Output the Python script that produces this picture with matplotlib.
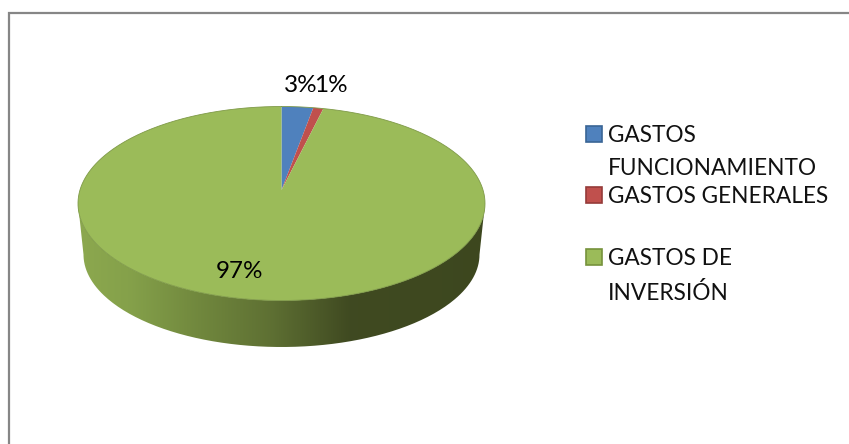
import numpy as np
import matplotlib
matplotlib.use("Agg")
import matplotlib.pyplot as plt
from matplotlib.patches import Rectangle, PathPatch
from matplotlib.path import Path

plt.rcParams["font.family"] = ["Lato", "DejaVu Sans"]

# Data
categories = ["GASTOS\nFUNCIONAMIENTO", "GASTOS GENERALES", "GASTOS DE\nINVERSIÓN"]
values = [2.5, 0.8, 96.7]
pct_labels = ["3%", "1%", "97%"]
colors = ["#4F81BD", "#C0504D", "#9BBB59"]
edges = ["#3A6595", "#953B39", "#76923C"]

# pie geometry in pixels
cx, cy = 281.5, 203.5
rx, ry = 203.5, 97
apex = (281.5, 190)
bx, by = 281.5, 254.5
brx, bry = 198, 92.5

fig = plt.figure(figsize=(8.49, 4.44), dpi=100)
ax = fig.add_axes([0, 0, 1, 1])
ax.set_xlim(0, 849)
ax.set_ylim(444, 0)
ax.axis("off")

# frame, no bottom and no right side
ax.plot([9, 9, 849], [444, 13, 13], color="#868686", lw=1.6, solid_joinstyle="miter")

# side of the pie, horizontal gradient clipped to the wall
t = np.linspace(np.pi, 0, 200)
wall_x = np.r_[cx + rx * np.cos(t), (bx + brx * np.cos(t))[::-1]]
wall_y = np.r_[cy + ry * np.sin(t), (by + bry * np.sin(t))[::-1]]
wall = Path(np.c_[wall_x, wall_y])
stops_x = [78, 130, 200, 270, 350, 485]
stops_c = [(0.55, 0.66, 0.31), (0.52, 0.63, 0.29), (0.44, 0.53, 0.24),
           (0.37, 0.44, 0.20), (0.25, 0.29, 0.13), (0.24, 0.28, 0.12)]
xs = np.arange(78, 486)
grad = np.array([[np.interp(xs, stops_x, [c[i] for c in stops_c]) for i in range(3)]])
grad = np.transpose(grad, (0, 2, 1))
im = ax.imshow(grad, extent=[78, 485, 348, 200], aspect="auto", zorder=2)
ax.set_xlim(0, 849)
ax.set_ylim(444, 0)
im.set_clip_path(PathPatch(wall, transform=ax.transData))

# top face, wedges clockwise from 12 o'clock
start = 0.0
for v, col in zip(values, colors):
    end = start + v / sum(values) * 2 * np.pi
    a = np.linspace(start, end, 300)
    px = np.r_[apex[0], cx + rx * np.sin(a)]
    py = np.r_[apex[1], cy - ry * np.cos(a)]
    ax.fill(px, py, color=col, lw=0, zorder=3)
    start = end

# thin outline
a = np.linspace(0, 2 * np.pi, 400)
ax.plot(cx + rx * np.sin(a), cy - ry * np.cos(a), color="#7F9A48", lw=0.6, zorder=4)

# percent labels
label_pos = [(301, 86), (331, 85), (240, 271)]
for txt, (x, y) in zip(pct_labels, label_pos):
    ax.text(x, y, txt, fontsize=17.5, color="black", ha="center", va="center", zorder=5)

# legend
legend_y = [134, 195, 257]
for cat, col, ed, ly in zip(categories, colors, edges, legend_y):
    ax.add_patch(Rectangle((586.5, ly - 8), 16, 16, facecolor=col, edgecolor=ed, lw=1.2, zorder=5))
    ax.text(608, ly - 9, cat, fontsize=16.3, color="#111111", ha="left", va="top",
            linespacing=1.72, zorder=5)

fig.savefig("out.png", dpi=100, facecolor="white")
